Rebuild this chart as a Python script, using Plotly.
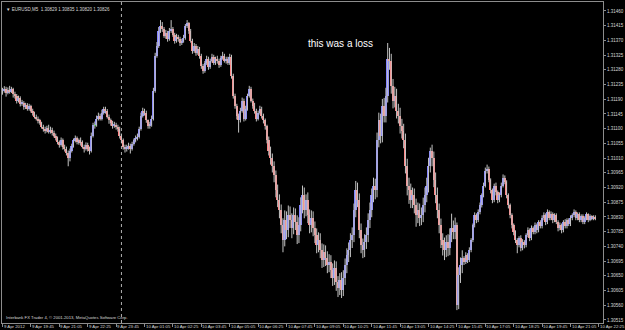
import plotly.graph_objects as go

symbol = "EURUSD,M5"
first_open = 1.31210

close = [
1.31216, 1.31222, 1.31210, 1.31219, 1.31213, 1.31222, 1.31207, 1.31201, 1.31186, 1.31195,
1.31176, 1.31180, 1.31167, 1.31173, 1.31161, 1.31170, 1.31155, 1.31149, 1.31137, 1.31131,
1.31125, 1.31118, 1.31106, 1.31100, 1.31094, 1.31103, 1.31091, 1.31097, 1.31088, 1.31079,
1.31070, 1.31058, 1.31051, 1.31064, 1.31045, 1.31039, 1.31027, 1.31009, 1.31033, 1.31048,
1.31064, 1.31070, 1.31058, 1.31064, 1.31058, 1.31045, 1.31039, 1.31051, 1.31039, 1.31033,
1.31079, 1.31112, 1.31112, 1.31131, 1.31140, 1.31131, 1.31149, 1.31161, 1.31155, 1.31137,
1.31125, 1.31118, 1.31109, 1.31112, 1.31106, 1.31100, 1.31079, 1.31064, 1.31045, 1.31039,
1.31042, 1.31048, 1.31039, 1.31054, 1.31064, 1.31070, 1.31076, 1.31100, 1.31140, 1.31155,
1.31149, 1.31125, 1.31109, 1.31112, 1.31131, 1.31216, 1.31323, 1.31353, 1.31399, 1.31414,
1.31405, 1.31384, 1.31393, 1.31375, 1.31399, 1.31405, 1.31387, 1.31369, 1.31381, 1.31375,
1.31362, 1.31369, 1.31378, 1.31414, 1.31423, 1.31399, 1.31369, 1.31338, 1.31353, 1.31332,
1.31344, 1.31323, 1.31292, 1.31277, 1.31301, 1.31314, 1.31289, 1.31308, 1.31320, 1.31301,
1.31314, 1.31308, 1.31295, 1.31317, 1.31323, 1.31308, 1.31314, 1.31301, 1.31320, 1.31262,
1.31201, 1.31170, 1.31140, 1.31125, 1.31155, 1.31186, 1.31131, 1.31161, 1.31201, 1.31222,
1.31186, 1.31170, 1.31155, 1.31131, 1.31149, 1.31161, 1.31140, 1.31125, 1.31109, 1.31064,
1.31033, 1.31009, 1.30987, 1.30957, 1.30911, 1.30881, 1.30850, 1.30804, 1.30759, 1.30820,
1.30789, 1.30835, 1.30820, 1.30795, 1.30835, 1.30814, 1.30774, 1.30804, 1.30865, 1.30896,
1.30850, 1.30881, 1.30835, 1.30804, 1.30826, 1.30795, 1.30774, 1.30743, 1.30759, 1.30728,
1.30698, 1.30722, 1.30704, 1.30682, 1.30692, 1.30667, 1.30643, 1.30673, 1.30631, 1.30612,
1.30637, 1.30606, 1.30643, 1.30682, 1.30713, 1.30728, 1.30759, 1.30774, 1.30850, 1.30911,
1.30881, 1.30789, 1.30743, 1.30728, 1.30753, 1.30774, 1.30820, 1.30850, 1.30896, 1.30926,
1.30911, 1.31064, 1.31125, 1.31079, 1.31170, 1.31140, 1.31201, 1.31314, 1.31308, 1.31231,
1.31186, 1.31201, 1.31155, 1.31140, 1.31109, 1.31094, 1.31064, 1.30987, 1.30926, 1.30911,
1.30881, 1.30896, 1.30865, 1.30835, 1.30850, 1.30826, 1.30835, 1.30865, 1.30896, 1.30926,
1.30987, 1.31033, 1.31009, 1.30942, 1.30896, 1.30850, 1.30804, 1.30759, 1.30743, 1.30728,
1.30753, 1.30734, 1.30774, 1.30795, 1.30783, 1.30804, 1.30561, 1.30652, 1.30682, 1.30704,
1.30692, 1.30713, 1.30698, 1.30728, 1.30759, 1.30804, 1.30835, 1.30820, 1.30844, 1.30865,
1.30896, 1.30926, 1.30972, 1.30978, 1.30942, 1.30911, 1.30881, 1.30926, 1.30905, 1.30881,
1.30896, 1.30926, 1.30948, 1.30936, 1.30896, 1.30865, 1.30835, 1.30804, 1.30783, 1.30759,
1.30743, 1.30765, 1.30734, 1.30753, 1.30743, 1.30774, 1.30789, 1.30765, 1.30795, 1.30783,
1.30804, 1.30789, 1.30814, 1.30801, 1.30826, 1.30835, 1.30814, 1.30844, 1.30826, 1.30838,
1.30820, 1.30835, 1.30814, 1.30795, 1.30804, 1.30789, 1.30814, 1.30801, 1.30820, 1.30808,
1.30826, 1.30835, 1.30844, 1.30826, 1.30838, 1.30820, 1.30832, 1.30814, 1.30826, 1.30838,
1.30820, 1.30832, 1.30826, 1.30829, 1.30826,
]

high = [
1.31225, 1.31230, 1.31228, 1.31226, 1.31231, 1.31228, 1.31225, 1.31213, 1.31206, 1.31201,
1.31199, 1.31188, 1.31184, 1.31179, 1.31178, 1.31176, 1.31173, 1.31161, 1.31152, 1.31143,
1.31137, 1.31130, 1.31121, 1.31112, 1.31106, 1.31109, 1.31112, 1.31106, 1.31103, 1.31094,
1.31085, 1.31076, 1.31064, 1.31073, 1.31070, 1.31051, 1.31045, 1.31033, 1.31039, 1.31054,
1.31070, 1.31079, 1.31076, 1.31070, 1.31073, 1.31064, 1.31051, 1.31058, 1.31057, 1.31045,
1.31088, 1.31118, 1.31122, 1.31140, 1.31149, 1.31146, 1.31158, 1.31167, 1.31167, 1.31160,
1.31143, 1.31131, 1.31124, 1.31121, 1.31118, 1.31112, 1.31106, 1.31085, 1.31070, 1.31051,
1.31051, 1.31057, 1.31054, 1.31060, 1.31070, 1.31079, 1.31085, 1.31106, 1.31149, 1.31164,
1.31161, 1.31155, 1.31128, 1.31121, 1.31140, 1.31225, 1.31332, 1.31365, 1.31411, 1.31432,
1.31426, 1.31411, 1.31402, 1.31399, 1.31408, 1.31432, 1.31411, 1.31393, 1.31390, 1.31387,
1.31381, 1.31375, 1.31387, 1.31420, 1.31432, 1.31426, 1.31405, 1.31375, 1.31362, 1.31359,
1.31353, 1.31350, 1.31329, 1.31298, 1.31307, 1.31323, 1.31320, 1.31314, 1.31329, 1.31326,
1.31320, 1.31323, 1.31314, 1.31323, 1.31335, 1.31329, 1.31320, 1.31320, 1.31329, 1.31326,
1.31268, 1.31207, 1.31176, 1.31146, 1.31164, 1.31195, 1.31192, 1.31170, 1.31207, 1.31231,
1.31228, 1.31192, 1.31179, 1.31161, 1.31155, 1.31170, 1.31167, 1.31146, 1.31131, 1.31112,
1.31076, 1.31045, 1.31024, 1.31000, 1.30972, 1.30929, 1.30899, 1.30868, 1.30826, 1.30850,
1.30847, 1.30865, 1.30862, 1.30841, 1.30859, 1.30856, 1.30835, 1.30829, 1.30890, 1.30926,
1.30920, 1.30899, 1.30905, 1.30853, 1.30850, 1.30847, 1.30816, 1.30795, 1.30783, 1.30780,
1.30749, 1.30746, 1.30743, 1.30725, 1.30716, 1.30713, 1.30688, 1.30697, 1.30694, 1.30649,
1.30658, 1.30661, 1.30667, 1.30703, 1.30734, 1.30752, 1.30780, 1.30798, 1.30871, 1.30940,
1.30935, 1.30902, 1.30810, 1.30764, 1.30777, 1.30798, 1.30841, 1.30874, 1.30917, 1.30950,
1.30947, 1.31088, 1.31149, 1.31146, 1.31191, 1.31194, 1.31225, 1.31362, 1.31347, 1.31329,
1.31252, 1.31228, 1.31222, 1.31176, 1.31164, 1.31130, 1.31115, 1.31085, 1.31008, 1.30950,
1.30932, 1.30920, 1.30917, 1.30886, 1.30874, 1.30871, 1.30859, 1.30889, 1.30920, 1.30950,
1.31011, 1.31042, 1.31051, 1.31030, 1.30966, 1.30920, 1.30871, 1.30825, 1.30780, 1.30767,
1.30774, 1.30777, 1.30795, 1.30840, 1.30819, 1.30828, 1.30813, 1.30676, 1.30706, 1.30728,
1.30710, 1.30722, 1.30719, 1.30737, 1.30765, 1.30810, 1.30844, 1.30841, 1.30853, 1.30874,
1.30902, 1.30935, 1.30981, 1.30990, 1.30984, 1.30948, 1.30917, 1.30932, 1.30935, 1.30911,
1.30905, 1.30935, 1.30960, 1.30957, 1.30942, 1.30902, 1.30871, 1.30841, 1.30810, 1.30789,
1.30765, 1.30771, 1.30774, 1.30762, 1.30759, 1.30780, 1.30798, 1.30795, 1.30804, 1.30801,
1.30813, 1.30810, 1.30820, 1.30820, 1.30835, 1.30844, 1.30841, 1.30853, 1.30850, 1.30847,
1.30844, 1.30841, 1.30841, 1.30820, 1.30813, 1.30810, 1.30820, 1.30823, 1.30826, 1.30826,
1.30835, 1.30841, 1.30853, 1.30850, 1.30844, 1.30844, 1.30838, 1.30838, 1.30832, 1.30844,
1.30841, 1.30838, 1.30835, 1.30835, 1.30835,
]

low = [
1.31204, 1.31210, 1.31198, 1.31205, 1.31207, 1.31209, 1.31195, 1.31192, 1.31177, 1.31180,
1.31168, 1.31170, 1.31158, 1.31160, 1.31155, 1.31155, 1.31149, 1.31140, 1.31131, 1.31125,
1.31116, 1.31112, 1.31100, 1.31091, 1.31085, 1.31088, 1.31085, 1.31085, 1.31079, 1.31073,
1.31064, 1.31052, 1.31042, 1.31045, 1.31036, 1.31030, 1.31018, 1.30985, 1.31000, 1.31027,
1.31042, 1.31058, 1.31052, 1.31051, 1.31048, 1.31039, 1.31027, 1.31033, 1.31030, 1.31021,
1.31027, 1.31073, 1.31100, 1.31106, 1.31125, 1.31125, 1.31125, 1.31143, 1.31146, 1.31131,
1.31115, 1.31109, 1.31100, 1.31103, 1.31097, 1.31091, 1.31070, 1.31055, 1.31036, 1.31027,
1.31030, 1.31036, 1.31024, 1.31033, 1.31048, 1.31058, 1.31064, 1.31070, 1.31094, 1.31134,
1.31140, 1.31118, 1.31100, 1.31100, 1.31106, 1.31125, 1.31210, 1.31317, 1.31347, 1.31393,
1.31396, 1.31378, 1.31375, 1.31366, 1.31369, 1.31393, 1.31381, 1.31360, 1.31363, 1.31366,
1.31353, 1.31356, 1.31363, 1.31372, 1.31408, 1.31390, 1.31363, 1.31329, 1.31332, 1.31323,
1.31326, 1.31314, 1.31283, 1.31268, 1.31271, 1.31295, 1.31280, 1.31283, 1.31302, 1.31295,
1.31295, 1.31299, 1.31286, 1.31289, 1.31311, 1.31302, 1.31299, 1.31295, 1.31295, 1.31253,
1.31192, 1.31161, 1.31128, 1.31088, 1.31119, 1.31149, 1.31122, 1.31125, 1.31155, 1.31195,
1.31180, 1.31161, 1.31146, 1.31122, 1.31125, 1.31143, 1.31131, 1.31116, 1.31097, 1.31055,
1.31018, 1.30990, 1.30966, 1.30936, 1.30890, 1.30860, 1.30826, 1.30780, 1.30722, 1.30740,
1.30762, 1.30768, 1.30796, 1.30765, 1.30777, 1.30790, 1.30747, 1.30750, 1.30786, 1.30841,
1.30826, 1.30832, 1.30811, 1.30780, 1.30783, 1.30771, 1.30750, 1.30719, 1.30722, 1.30704,
1.30674, 1.30677, 1.30680, 1.30658, 1.30661, 1.30643, 1.30619, 1.30622, 1.30604, 1.30585,
1.30591, 1.30582, 1.30588, 1.30622, 1.30658, 1.30692, 1.30707, 1.30735, 1.30753, 1.30829,
1.30860, 1.30765, 1.30719, 1.30704, 1.30707, 1.30732, 1.30753, 1.30796, 1.30829, 1.30875,
1.30884, 1.30890, 1.31043, 1.31055, 1.31058, 1.31119, 1.31119, 1.31180, 1.31280, 1.31207,
1.31162, 1.31165, 1.31131, 1.31116, 1.31085, 1.31070, 1.31040, 1.30963, 1.30896, 1.30870,
1.30857, 1.30857, 1.30841, 1.30800, 1.30811, 1.30802, 1.30805, 1.30814, 1.30844, 1.30875,
1.30905, 1.30966, 1.30985, 1.30921, 1.30872, 1.30826, 1.30780, 1.30735, 1.30712, 1.30698,
1.30707, 1.30710, 1.30713, 1.30753, 1.30762, 1.30762, 1.30545, 1.30548, 1.30628, 1.30658,
1.30683, 1.30686, 1.30689, 1.30692, 1.30722, 1.30753, 1.30798, 1.30811, 1.30814, 1.30838,
1.30859, 1.30890, 1.30920, 1.30963, 1.30936, 1.30902, 1.30872, 1.30875, 1.30896, 1.30872,
1.30875, 1.30890, 1.30920, 1.30930, 1.30887, 1.30856, 1.30826, 1.30795, 1.30774, 1.30750,
1.30719, 1.30737, 1.30725, 1.30728, 1.30734, 1.30737, 1.30768, 1.30756, 1.30759, 1.30777,
1.30777, 1.30780, 1.30783, 1.30795, 1.30795, 1.30820, 1.30805, 1.30808, 1.30820, 1.30820,
1.30811, 1.30814, 1.30808, 1.30786, 1.30789, 1.30780, 1.30783, 1.30795, 1.30795, 1.30802,
1.30802, 1.30820, 1.30829, 1.30820, 1.30820, 1.30814, 1.30814, 1.30808, 1.30808, 1.30820,
1.30814, 1.30817, 1.30820, 1.30820, 1.30820,
]

time_labels = [
    "9 Apr 2012", "9 Apr 19:45", "9 Apr 21:05", "9 Apr 22:25", "9 Apr 23:45",
    "10 Apr 01:05", "10 Apr 02:25", "10 Apr 03:45", "10 Apr 05:05", "10 Apr 06:25",
    "10 Apr 07:45", "10 Apr 09:05", "10 Apr 10:25", "10 Apr 11:45", "10 Apr 13:05",
    "10 Apr 14:25", "10 Apr 15:45", "10 Apr 17:05", "10 Apr 18:25", "10 Apr 19:45",
    "10 Apr 21:05", "10 Apr 22:25",
]
time_label_bars = [0, 16, 32, 48, 64, 80, 96, 112, 128, 144, 160, 176, 192, 208,
                   224, 240, 256, 272, 288, 304, 320, 336]
day_separator_bar = 67

price_ticks = [1.30515, 1.30560, 1.30605, 1.30650, 1.30695, 1.30740, 1.30785, 1.30830,
               1.30875, 1.30920, 1.30965, 1.31010, 1.31055, 1.31100, 1.31145, 1.31190,
               1.31235, 1.31280, 1.31325, 1.31370, 1.31415, 1.31460]

note_text = "this was a loss"
footer_text = "Interbank FX Trader 4, \u00a9 2001-2013, MetaQuotes Software Corp."

n = len(close)
opens = [first_open] + close[:-1]
idx = list(range(n))

UP = "#8585ff"
DOWN = "#ff8585"
DOJI = "#00b400"
WICK = "#c4c4c4"
TXT = "#d8d8d8"
FONT = "Liberation Sans, Arial, sans-serif"

wx, wy = [], []
for i in idx:
    wx += [i, i, None]
    wy += [low[i], high[i], None]

base, height, colors = [], [], []
for i in idx:
    o, c = opens[i], close[i]
    lo_b = min(o, c)
    h = abs(c - o)
    if h < 0.000005:
        h = 0.000025
        lo_b = o - 0.0000125
        colors.append(DOJI)
    else:
        colors.append(UP if c > o else DOWN)
    base.append(lo_b)
    height.append(h)

fig = go.Figure()
fig.add_trace(go.Scatter(x=wx, y=wy, mode="lines", line=dict(color=WICK, width=1),
                         hoverinfo="skip", showlegend=False))
fig.add_trace(go.Bar(x=idx, y=height, base=base, width=0.9,
                     marker=dict(color=colors, line=dict(width=0)),
                     hoverinfo="skip", showlegend=False))

annotations = []
for b, t in zip(time_label_bars, time_labels):
    annotations.append(dict(x=b, xref="x", y=0, yref="paper", text=t, showarrow=False,
                            xanchor="left", yanchor="top", yshift=1, xshift=-1,
                            font=dict(family=FONT, size=4.3, color=TXT)))

header = "\u25bc {}  {:.5f} {:.5f} {:.5f} {:.5f}".format(
    symbol, opens[-1], high[-1], low[-1], close[-1])
annotations.append(dict(x=0.004, xref="paper", y=0.992, yref="paper", text=header,
                        showarrow=False, xanchor="left", yanchor="top",
                        font=dict(family=FONT, size=4.5, color=TXT)))
annotations.append(dict(x=0.003, xref="paper", y=0.004, yref="paper", text=footer_text,
                        showarrow=False, xanchor="left", yanchor="bottom",
                        font=dict(family=FONT, size=4.2, color=TXT)))
annotations.append(dict(x=0.5066, xref="paper", y=0.87, yref="paper", text=note_text,
                        showarrow=False, xanchor="left", yanchor="middle",
                        font=dict(family=FONT, size=10, color="#ffffff")))

fig.update_layout(
    width=625, height=330,
    margin=dict(l=1, r=20, t=1, b=7),
    paper_bgcolor="#000000", plot_bgcolor="#000000",
    showlegend=False, bargap=0,
    annotations=annotations,
    shapes=[dict(type="line", x0=day_separator_bar, x1=day_separator_bar, xref="x",
                 y0=0, y1=1, yref="paper",
                 line=dict(color="#b0b0b0", width=1, dash="dot"), layer="below")],
)
fig.update_xaxes(range=[-0.3, 338.3], showgrid=False, zeroline=False,
                 showline=True, mirror=True, linecolor="#8c8c8c", linewidth=1,
                 tickmode="array", tickvals=time_label_bars, showticklabels=False,
                 ticks="outside", ticklen=3, tickcolor="#8c8c8c")
fig.update_yaxes(range=[1.305056, 1.314874], side="right", showgrid=False, zeroline=False,
                 showline=True, mirror=True, linecolor="#8c8c8c", linewidth=1,
                 tickmode="array", tickvals=price_ticks,
                 ticktext=["{:.5f}".format(v) for v in price_ticks],
                 ticks="outside", ticklen=2, tickcolor="#8c8c8c",
                 tickfont=dict(family=FONT, size=4.5, color=TXT))

fig.write_html("out.html")
